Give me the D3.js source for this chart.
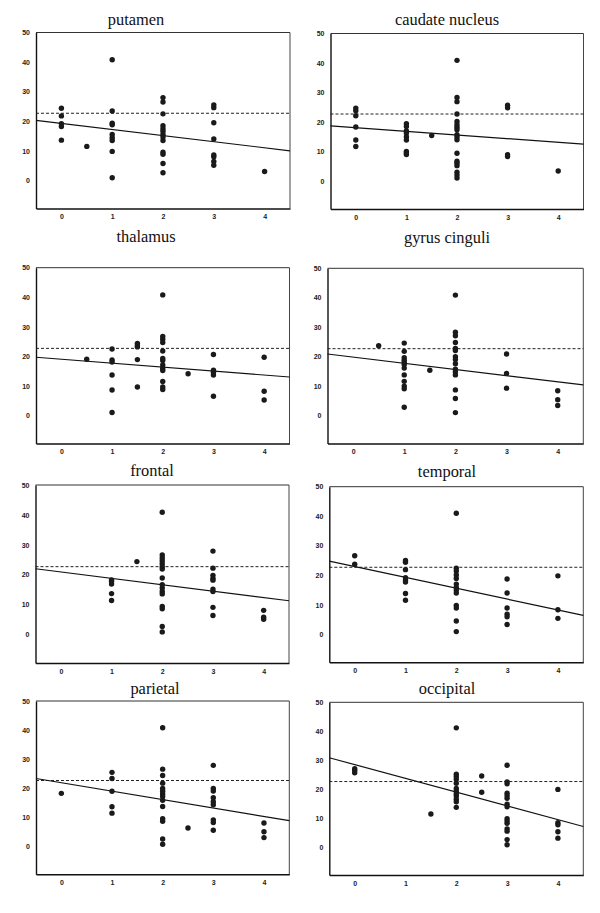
<!DOCTYPE html>
<html><head><meta charset="utf-8">
<script src="https://cdn.jsdelivr.net/npm/d3@7"></script>
<style>body{margin:0;background:#fff}</style>
</head><body>
<svg id="c" width="600" height="913"></svg>
<script>
const titles = ["putamen","caudate nucleus","thalamus","gyrus cinguli","frontal","temporal","parietal","occipital"];
const xTicks = [0,1,2,3,4];
const yTicks = [0,10,20,30,40,50];
const refLine = [22.7,22.7,22.7,22.7,22.7,22.7,22.7,22.7];
const regIntercept = [19.27,18.08,19.03,19.85,20.93,22.96,21.95,28.53];
const regSlope = [-2.06,-1.24,-1.34,-2.1,-2.14,-3.68,-2.9,-4.74];

const putamen = [[0,24.4],[0,21.8],[0,19.2],[0,18.2],[0,13.6],[0.5,11.5],
 [1,40.8],[1,23.5],[1,19.3],[1,18.8],[1,15.5],[1,14.4],[1,13.5],[1,9.8],[1,0.9],
 [2,28],[2,26.5],[2,22.5],[2,18.5],[2,17.5],[2,16.6],[2,15.5],[2,14.7],[2,13.5],[2,9.5],[2,8.8],[2,5.7],[2,2.6],
 [3,25.5],[3,24.6],[3,19.5],[3,14],[3,8.6],[3,8],[3,6.4],[3,5.1],[4,3]];
const caudate = [[0,24.7],[0,23.8],[0,22.1],[0,18.3],[0,13.9],[0,11.7],
 [1,19.4],[1,18.5],[1,17],[1,16.3],[1,15],[1,13.9],[1,10],[1,9.5],[1,9],[1.5,15.4],
 [2,40.9],[2,28.3],[2,26.9],[2,22.7],[2,20.2],[2,19.1],[2,18.2],[2,17.4],[2,15.7],[2,14.9],[2,14],[2,9.4],[2,6.7],[2,6],[2,5.2],[2,3],[2,2],[2,1],
 [3,25.7],[3,24.8],[3,8.9],[3,8.3],[4,3.4]];
const thalamus = [[0.5,19],[1,22.5],[1,18.8],[1,18.1],[1,13.7],[1,8.6],[1,1],
 [1.5,24.4],[1.5,23.7],[1.5,23.2],[1.5,18.9],[1.5,9.6],
 [2,40.8],[2,26.7],[2,25.8],[2,24.7],[2,21.8],[2,19.3],[2,18.6],[2,17.1],[2,16],[2,15.2],[2,11.5],[2,9.6],[2,8.8],
 [2.5,14.1],[3,20.6],[3,15.3],[3,14.6],[3,13.7],[3,6.5],[4,19.7],[4,8.2],[4,5.2]];
const gyrus = [[0.5,23.7],[1,24.6],[1,21.8],[1,19.6],[1,18.8],[1,18.1],[1,17.3],[1,16.1],[1,13.8],[1,11.6],[1,10],[1,9.1],[1,2.8],
 [1.5,15.4],[2,40.9],[2,28.3],[2,27.1],[2,24.8],[2,22.8],[2,22.1],[2,20],[2,19],[2,17.6],[2,15.7],[2,14.8],[2,13.8],[2,8.7],[2,5.8],[2,1],
 [3,20.9],[3,14.3],[3,9.3],[4,8.4],[4,5.4],[4,3.4]];
const frontal = [[1,18.3],[1,17.8],[1,16.9],[1,13.7],[1,11.4],[1.5,24.4],
 [2,40.9],[2,26.6],[2,25.6],[2,24.7],[2,23.7],[2,22.7],[2,21.9],[2,18.9],[2,16.7],[2,15.6],[2,14.4],[2,13.6],[2,9.4],[2,8.6],[2,2.7],[2,0.9],
 [3,27.9],[3,22.2],[3,19.8],[3,18.8],[3,18.2],[3,15.2],[3,14.4],[3,9.1],[3,6.4],[4,8.1],[4,5.8],[4,5.1]];
const temporal = [[0,26.6],[0,23.7],[1,25],[1,24.4],[1,21.9],[1,19.2],[1,18.4],[1,17.7],[1,13.8],[1,11.5],
 [2,41],[2,22.4],[2,21.4],[2,20.1],[2,18.9],[2,17],[2,15.9],[2,15],[2,14],[2,9.8],[2,8.9],[2,4.5],[2,0.9],
 [3,18.7],[3,14],[3,8.9],[3,6.8],[3,5.9],[3,3.3],[4,19.8],[4,8.3],[4,5.4]];
const parietal = [[0,18.3],[1,25.5],[1,23.4],[1,19],[1,13.7],[1,11.5],
 [2,40.8],[2,26.6],[2,24.4],[2,21.8],[2,20],[2,19],[2,18.1],[2,17.2],[2,15.9],[2,13.8],[2,9.6],[2,8.7],[2,2.6],[2,0.8],
 [2.5,6.4],[3,27.9],[3,20],[3,19.1],[3,16.8],[3,15.4],[3,14.4],[3,9.2],[3,8.3],[3,5.6],[4,8.1],[4,5.1],[4,3.1]];
const occipital = [[0,27.1],[0,26.5],[0,25.7],[1.5,11.5],
 [2,41.2],[2,25.2],[2,24.4],[2,23.5],[2,22.1],[2,20.3],[2,19.4],[2,18.5],[2,17.7],[2,16.6],[2,15.7],[2,13.8],
 [2.5,24.6],[2.5,19],
 [3,28.3],[3,22.6],[3,21.9],[3,18.7],[3,17.8],[3,16.9],[3,14.9],[3,14],[3,9.9],[3,9.1],[3,8.3],[3,6.4],[3,5.6],[3,2.7],[3,0.9],
 [4,20],[4,8.5],[4,7.8],[4,5.4],[4,3.2]];
const series = [putamen,caudate,thalamus,gyrus,frontal,temporal,parietal,occipital];

// layout (pixel boxes of each panel)
const layout = [
 {l:36,t:32.5,r:290,b:208.5,tx:136,ty:25},
 {l:330.5,t:33.5,r:583.5,b:209,tx:447,ty:25},
 {l:36,t:267.7,r:289.5,b:443.5,tx:146,ty:242},
 {l:327.5,t:268.3,r:583.3,b:443.5,tx:447,ty:243},
 {l:35.5,t:485,r:289,b:663,tx:152,ty:476},
 {l:329.3,t:486.7,r:583.3,b:662.3,tx:447,ty:477},
 {l:36,t:701,r:289.3,b:874.3,tx:155,ty:694},
 {l:329.3,t:702.3,r:583.3,b:875,tx:447,ty:694}
];

const svg = d3.select("#c");
series.forEach((pts,i)=>{
  const L = layout[i];
  const x = d3.scaleLinear().domain([-0.5,4.5]).range([L.l,L.r]);
  const y = d3.scaleLinear().domain([-9.5,50]).range([L.b,L.t]);
  const g = svg.append("g");
  g.append("text").attr("x",L.tx).attr("y",L.ty).attr("text-anchor","middle")
    .attr("font-family","'Liberation Serif', 'Times New Roman', serif").attr("font-size",16.4)
    .attr("fill","#111").text(titles[i]);
  // frame
  g.append("line").attr("x1",L.l).attr("x2",L.r).attr("y1",L.t).attr("y2",L.t).attr("stroke","#333").attr("stroke-width",1);
  g.append("line").attr("x1",L.r).attr("x2",L.r).attr("y1",L.t).attr("y2",L.b).attr("stroke","#444").attr("stroke-width",1);
  const yAx = g.append("g").attr("transform",`translate(${L.l},0)`)
    .call(d3.axisLeft(y).tickValues(yTicks).tickFormat(d3.format("d")).tickSize(0).tickPadding(6));
  const xAx = g.append("g").attr("transform",`translate(0,${L.b})`)
    .call(d3.axisBottom(x).tickValues(xTicks).tickFormat(d3.format("d")).tickSize(0).tickPadding(6));
  [yAx,xAx].forEach(a=>{
    a.select(".domain").attr("stroke","#111").attr("stroke-width",1.4);
    a.selectAll("text").attr("font-family","'Liberation Sans', Arial, sans-serif")
      .attr("font-size",7).attr("font-weight","bold").attr("fill","#222");
  });
  // reference dashed
  g.append("line").attr("x1",x(-0.5)).attr("x2",x(4.5)).attr("y1",y(refLine[i])).attr("y2",y(refLine[i]))
    .attr("stroke","#222").attr("stroke-width",1).attr("stroke-dasharray","3,2");
  // regression
  const f = v=>regIntercept[i]+regSlope[i]*v;
  g.append("line").attr("x1",x(-0.5)).attr("x2",x(4.5)).attr("y1",y(f(-0.5))).attr("y2",y(f(4.5)))
    .attr("stroke","#111").attr("stroke-width",1.2);
  g.selectAll("circle").data(pts).join("circle")
    .attr("cx",d=>x(d[0])).attr("cy",d=>y(d[1])).attr("r",2.7).attr("fill","#1a1a1a");
});
</script>
</body></html>
